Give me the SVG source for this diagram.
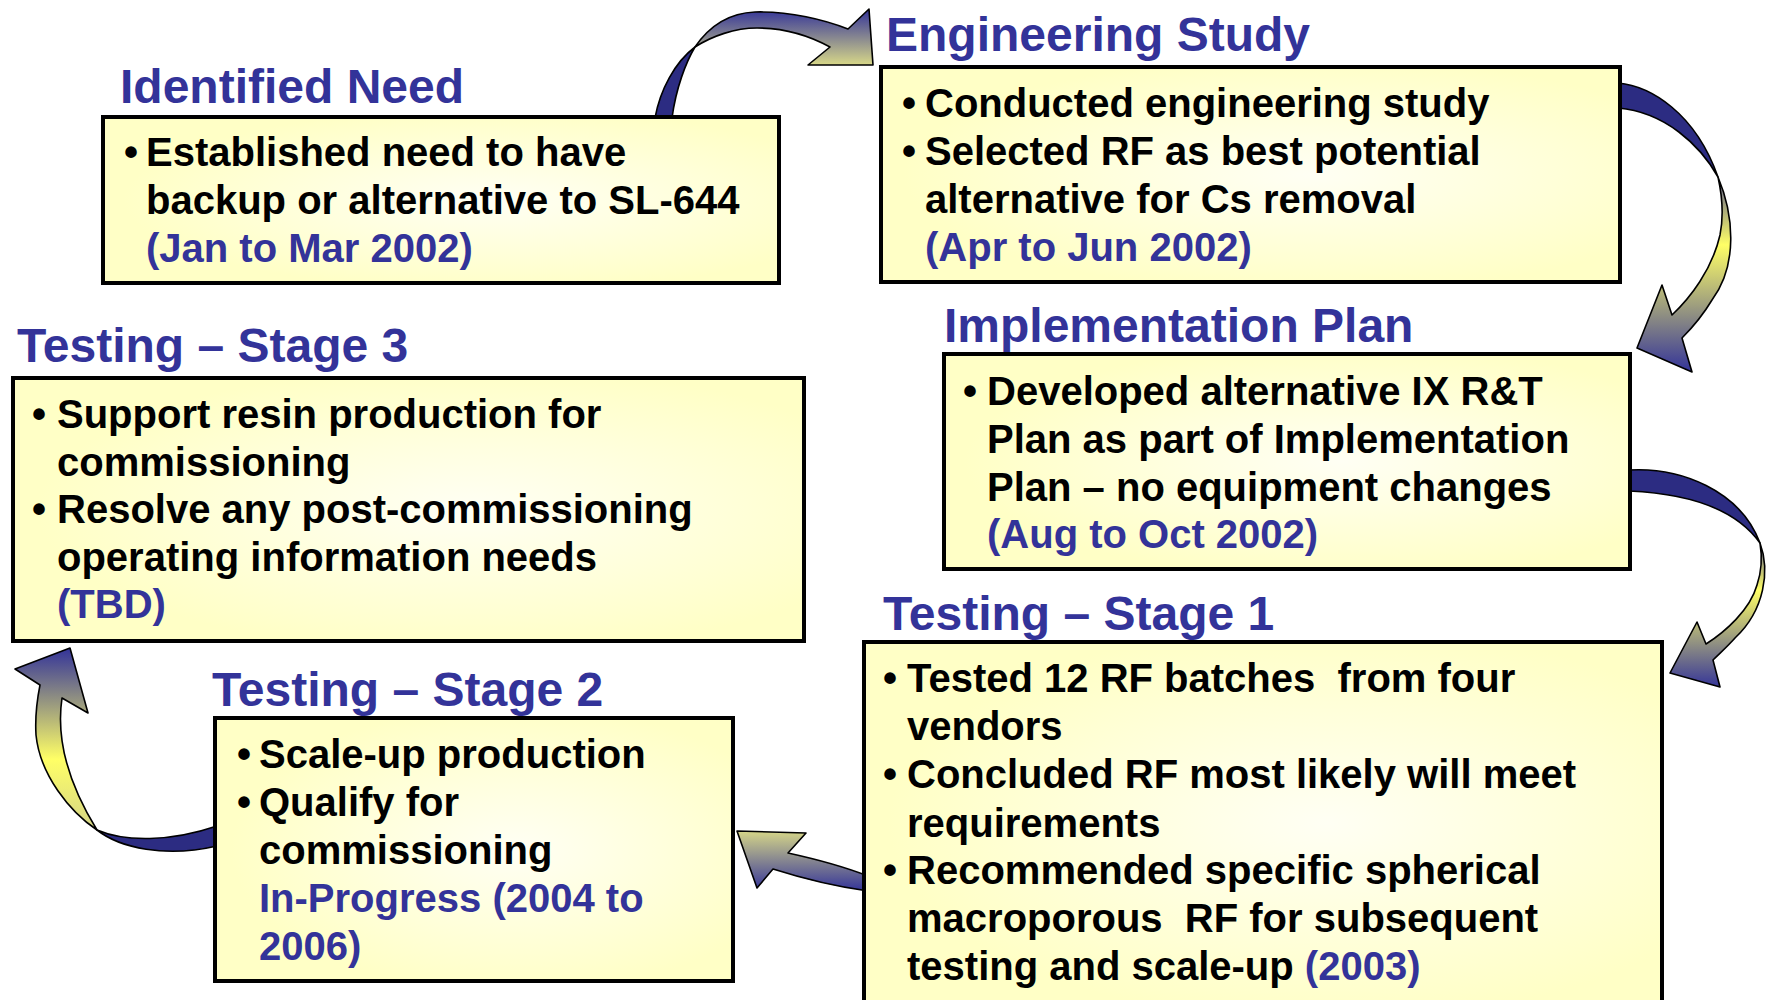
<svg xmlns="http://www.w3.org/2000/svg" width="1769" height="1000" viewBox="0 0 1769 1000">
<style>
.box{stroke:#000;stroke-width:4;fill:url(#boxfill)}
.title{font-family:"Liberation Sans",Arial,sans-serif;font-weight:bold;font-size:48px;fill:#333399}
.body{font-family:"Liberation Sans",Arial,sans-serif;font-weight:bold;font-size:40px;fill:#000;white-space:pre}
.blue{fill:#333399}
.bul{text-anchor:middle}
.arr{stroke:#000;stroke-width:1.6;stroke-linejoin:round}
.under{fill:#2c2c82}
</style>
<defs>
<radialGradient id="boxfill" cx="0.58" cy="0.5" r="0.55">
<stop offset="0" stop-color="#fffff4"/>
<stop offset="1" stop-color="#ffffc6"/>
</radialGradient>
<linearGradient id="g1" gradientUnits="userSpaceOnUse" x1="0" y1="9" x2="0" y2="65">
<stop offset="0" stop-color="#333399"/>
<stop offset="1" stop-color="#d8d888"/>
</linearGradient>
<linearGradient id="g2" gradientUnits="userSpaceOnUse" x1="0" y1="160" x2="0" y2="372">
<stop offset="0" stop-color="#333399"/>
<stop offset="0.4" stop-color="#ffff66"/>
<stop offset="1" stop-color="#333399"/>
</linearGradient>
<linearGradient id="g3" gradientUnits="userSpaceOnUse" x1="0" y1="530" x2="0" y2="688">
<stop offset="0" stop-color="#333399"/>
<stop offset="0.38" stop-color="#ffff66"/>
<stop offset="1" stop-color="#333399"/>
</linearGradient>
<linearGradient id="g4" gradientUnits="userSpaceOnUse" x1="0" y1="831" x2="0" y2="891">
<stop offset="0" stop-color="#d6d688"/>
<stop offset="1" stop-color="#333399"/>
</linearGradient>
<linearGradient id="g5" gradientUnits="userSpaceOnUse" x1="0" y1="648" x2="0" y2="850">
<stop offset="0" stop-color="#333399"/>
<stop offset="0.55" stop-color="#ffff66"/>
<stop offset="1" stop-color="#c8c890"/>
</linearGradient>
</defs>
<rect width="1769" height="1000" fill="#fff"/>

<g id="connectors">
<g id="arrow-need-to-study">
<path class="arr under" d="M655,118 C660,90 675,62 695,47 C686,62 676,88 672,118 Z"/>
<path class="arr" fill="url(#g1)" d="M695,47 C710,25 730,13 755,12 C790,11 825,20 848,29 L869,9 L873,65 L808,65 L830,47 C810,36 785,28 757,28 C735,28 712,36 695,47 Z"/>
</g>
<g id="arrow-study-to-plan">
<path class="arr under" d="M1618,83 C1650,86 1695,112 1718,177 C1700,145 1665,112 1618,108 Z"/>
<path class="arr" fill="url(#g2)" d="M1718,177 C1734,215 1738,265 1712,300 C1703,315 1692,328 1682,338 L1692,372 L1637,348 L1662,285 L1672,315 C1690,298 1712,270 1720,235 C1724,215 1722,195 1718,177 Z"/>
</g>
<g id="arrow-plan-to-stage1">
<path class="arr under" d="M1629,470 C1680,467 1740,490 1760,543 C1740,515 1700,494 1629,491 Z"/>
<path class="arr" fill="url(#g3)" d="M1760,543 C1770,570 1765,610 1735,638 C1728,646 1720,653 1713,660 L1720,687 L1670,673 L1697,622 L1706,644 C1725,632 1750,610 1757,585 C1762,570 1762,555 1760,543 Z"/>
</g>
<g id="arrow-stage1-to-stage2">
<path class="arr" fill="url(#g4)" d="M868,876 C850,869 820,860 788,853 L806,833 L737,831 L757,888 L773,869 C795,876 825,885 868,891 Z"/>
</g>
<g id="arrow-stage2-to-stage3">
<path class="arr under" d="M217,826 C170,842 125,842 97,830 C120,848 165,858 217,846 Z"/>
<path class="arr" fill="url(#g5)" d="M97,830 C70,812 40,775 36,735 C35,718 37,700 40,685 L15,669 L70,648 L88,713 L62,698 C58,725 60,770 97,830 Z"/>
</g>
</g>

<g id="identified-need">
<text class="title" x="120" y="103">Identified Need</text>
<rect class="box" x="103" y="117" width="676" height="166"/>
<text class="body bul" x="131" y="166">•</text>
<text class="body" x="146" y="166">Established need to have</text>
<text class="body" x="146" y="214">backup or alternative to SL-644</text>
<text class="body blue" x="146" y="262">(Jan to Mar 2002)</text>
</g>

<g id="engineering-study">
<text class="title" x="886" y="51">Engineering Study</text>
<rect class="box" x="881" y="67" width="739" height="215"/>
<text class="body bul" x="909" y="117">•</text>
<text class="body" x="925" y="117">Conducted engineering study</text>
<text class="body bul" x="909" y="165">•</text>
<text class="body" x="925" y="165">Selected RF as best potential</text>
<text class="body" x="925" y="213">alternative for Cs removal</text>
<text class="body blue" x="925" y="261">(Apr to Jun 2002)</text>
</g>

<g id="implementation-plan">
<text class="title" x="944" y="342">Implementation Plan</text>
<rect class="box" x="944" y="354" width="686" height="215"/>
<text class="body bul" x="970" y="405">•</text>
<text class="body" x="987" y="405">Developed alternative IX R&amp;T</text>
<text class="body" x="987" y="453">Plan as part of Implementation</text>
<text class="body" x="987" y="501">Plan – no equipment changes</text>
<text class="body blue" x="987" y="548">(Aug to Oct 2002)</text>
</g>

<g id="testing-stage-3">
<text class="title" x="17" y="362">Testing – Stage 3</text>
<rect class="box" x="13" y="378" width="791" height="263"/>
<text class="body bul" x="39" y="428">•</text>
<text class="body" x="57" y="428">Support resin production for</text>
<text class="body" x="57" y="476">commissioning</text>
<text class="body bul" x="39" y="523">•</text>
<text class="body" x="57" y="523">Resolve any post-commissioning</text>
<text class="body" x="57" y="571">operating information needs</text>
<text class="body blue" x="57" y="618">(TBD)</text>
</g>

<g id="testing-stage-1">
<text class="title" x="883" y="630">Testing – Stage 1</text>
<rect class="box" x="864" y="642" width="798" height="362"/>
<text class="body bul" x="890" y="692">•</text>
<text class="body" x="907" y="692">Tested 12 RF batches  from four</text>
<text class="body" x="907" y="740">vendors</text>
<text class="body bul" x="890" y="788">•</text>
<text class="body" x="907" y="788">Concluded RF most likely will meet</text>
<text class="body" x="907" y="837">requirements</text>
<text class="body bul" x="890" y="884">•</text>
<text class="body" x="907" y="884">Recommended specific spherical</text>
<text class="body" x="907" y="932">macroporous  RF for subsequent</text>
<text class="body" x="907" y="980">testing and scale-up <tspan class="blue">(2003)</tspan></text>
</g>

<g id="testing-stage-2">
<text class="title" x="212" y="706">Testing – Stage 2</text>
<rect class="box" x="215" y="718" width="518" height="263"/>
<text class="body bul" x="244" y="768">•</text>
<text class="body" x="259" y="768">Scale-up production</text>
<text class="body bul" x="244" y="816">•</text>
<text class="body" x="259" y="816">Qualify for</text>
<text class="body" x="259" y="864">commissioning</text>
<text class="body blue" x="259" y="912">In-Progress (2004 to</text>
<text class="body blue" x="259" y="960">2006)</text>
</g>
</svg>
